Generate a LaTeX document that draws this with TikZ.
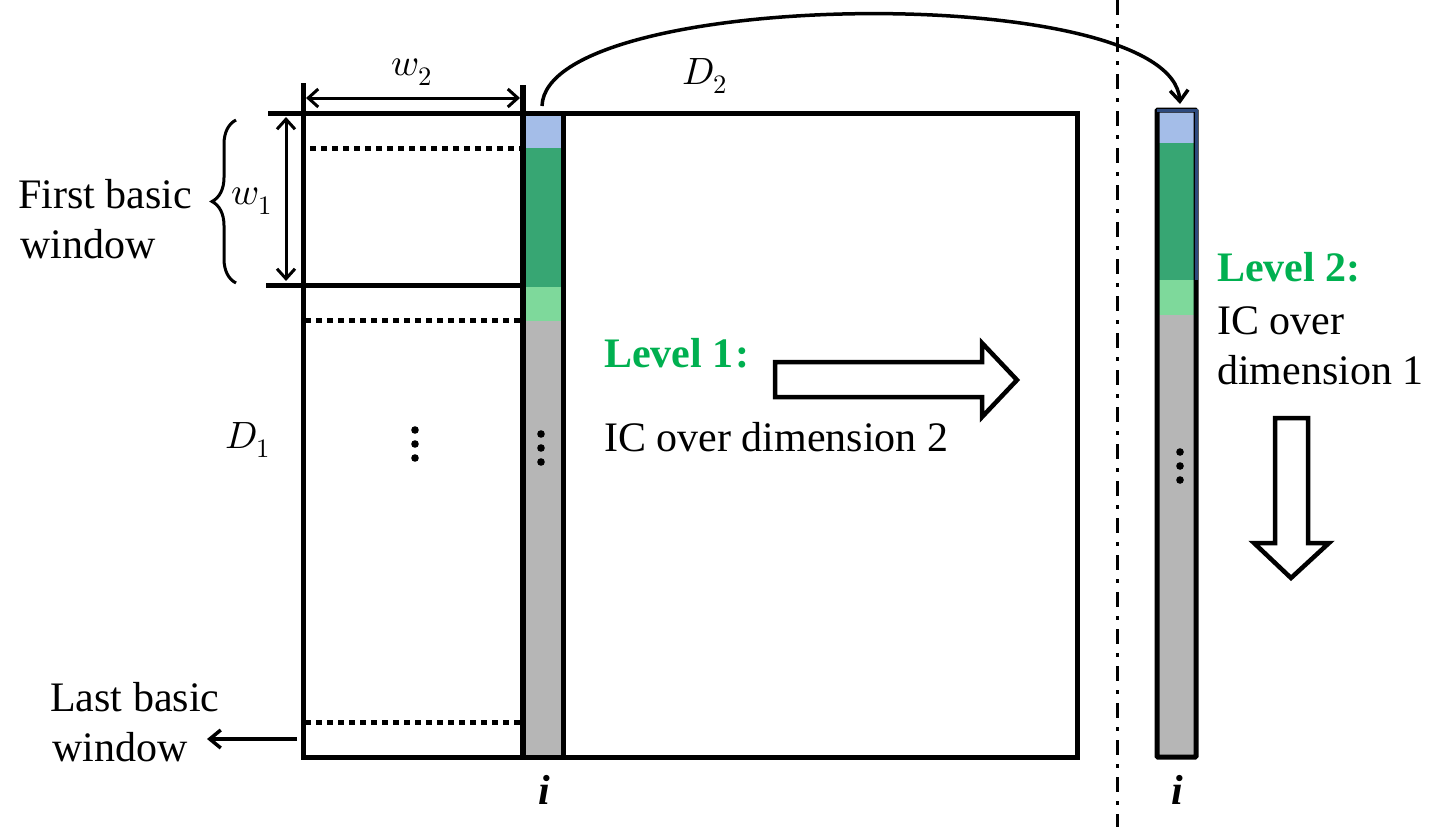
\documentclass[tikz,border=0pt]{standalone}
\usepackage{fontspec}
\usepackage{unicode-math}
\setmainfont{Liberation Serif}
\setmathfont{Latin Modern Math}
\usetikzlibrary{arrows.meta,decorations.pathreplacing,calc}

\definecolor{cellblue}{HTML}{A4BDE8}
\definecolor{celldkgreen}{HTML}{37A673}
\definecolor{celllgreen}{HTML}{7ED99B}
\definecolor{cellgray}{HTML}{B6B6B6}
\definecolor{edgeblue}{HTML}{2E4A7D}
\definecolor{lvlgreen}{HTML}{00B050}

\tikzset{
  txt/.style={inner sep=0pt, font=\fontsize{42}{50}\selectfont},
  mth/.style={inner sep=0pt, font=\fontsize{38}{46}\selectfont},
  lvl/.style={txt, text=lvlgreen, font=\fontsize{42}{50}\selectfont\bfseries},
  thick line/.style={line width=5pt},
  dotline/.style={line width=5pt, dash pattern=on 6pt off 5pt},
  dimarrow/.style={line width=3pt, {Straight Barb[length=10pt,width=18pt]}-{Straight Barb[length=10pt,width=18pt]}},
  onearrow/.style={line width=3.5pt, -{Straight Barb[length=11pt,width=18pt]}},
  blockarrow/.style={line width=4.5pt, fill=white, line join=miter},
  dotdash/.style={line width=3pt, dash pattern=on 15pt off 9pt on 4pt off 9pt},
}

\begin{document}
\begin{tikzpicture}[x=1pt,y=-1pt]
\useasboundingbox (0,0) rectangle (1440,827);

% ---- separator between the two views
\draw[dotdash] (1117,0) -- (1117,827);

% ---- column i inside the matrix
\fill[cellblue]    (524,113) rectangle (563,148);
\fill[celldkgreen] (524,148) rectangle (563,287);
\fill[celllgreen]  (524,287) rectangle (563,321);
\fill[cellgray]    (524,321) rectangle (563,757);

% ---- the D1 x D2 matrix
\draw[thick line] (303,113) rectangle (1077,757);
\draw[thick line] (268,113) -- (303,113);
\draw[line width=6pt] (523,85) -- (523,757);
\draw[thick line] (563,113) -- (563,757);
\draw[thick line] (303,83) -- (303,113);
\draw[thick line] (266,285) -- (523,285);

% basic window boundaries
\draw[dotline] (310,148) -- (520,148);
\draw[dotline] (305,320) -- (520,320);
\draw[dotline] (305,722) -- (520,722);

% vertical dots
\foreach \yy in {430,444,458} \fill (415,\yy) circle (3.8pt);
\foreach \yy in {434,448,462} \fill (541,\yy) circle (3.8pt);

% ---- extracted column (right view)
\fill[cellblue]    (1157,110) rectangle (1196,143);
\fill[celldkgreen] (1157,143) rectangle (1196,280);
\fill[celllgreen]  (1157,280) rectangle (1196,315);
\fill[cellgray]    (1157,315) rectangle (1196,757);
\draw[thick line, rounded corners=1pt] (1157,110) rectangle (1196,757);
\draw[line width=3pt, edgeblue] (1157,110) -- (1196,110) -- (1196,280);
\foreach \yy in {452,466,480} \fill (1180,\yy) circle (3.8pt);

% ---- dimension arrows and brace
\coordinate (w2l) at (306,98);
\coordinate (w2r) at (520,98);
\draw[dimarrow] (w2l) -- (w2r);
\node[mth] (w2) at (412,72) {$w_2$};

\coordinate (w1t) at (286,117);
\coordinate (w1b) at (286,281);
\draw[dimarrow] (w1t) -- (w1b);
\node[mth] (w1) at (252,201) {$w_1$};

\draw[line width=3pt, decorate, decoration={brace, amplitude=24pt}]
  (236,283) -- (236,120);

\node[mth] (D2) at (705,76) {$D_2$};
\node[mth] (D1) at (248,440) {$D_1$};

% ---- labels
\node[txt, anchor=base west] (fbw1) at (18,208) {First basic};
\node[txt, anchor=base west] (fbw2) at (20,258) {window};
\node[txt, anchor=base west] (lbw1) at (50,711) {Last basic};
\node[txt, anchor=base west] (lbw2) at (52,761) {window};

\coordinate (lwin) at (297,739);
\coordinate (lwtip) at (207,739);
\draw[onearrow] (lwin) -- (lwtip);

\node[lvl, anchor=base west] (lv1) at (604,367) {Level 1\kern2pt:};
\node[txt, anchor=base west] (lv1t) at (604,451) {IC over dimension 2};

\node[lvl, anchor=base west] (lv2) at (1217,281) {Level 2:};
\node[txt, anchor=base west] (lv2a) at (1217,334) {IC over};
\node[txt, anchor=base west] (lv2b) at (1217,384) {dimension 1};

\node[txt, font=\fontsize{42}{50}\selectfont\bfseries\itshape] (i1) at (544,790) {i};
\node[txt, font=\fontsize{42}{50}\selectfont\bfseries\itshape] (i2) at (1177,790) {i};

% ---- block arrows
\draw[blockarrow] (775,362) -- (982,362) -- (982,343) -- (1017,380) -- (982,417)
  -- (982,397) -- (775,397) -- cycle;
\draw[blockarrow] (1275,418) -- (1308,418) -- (1308,543) -- (1329,543) -- (1291,578)
  -- (1254,543) -- (1275,543) -- cycle;

% ---- column i carried over to the right view
\coordinate (cstart) at (542,106);
\coordinate (cend) at (1180,104);
\draw[onearrow] (cstart) .. controls (546,-12) and (1172,-20) .. (cend);

\end{tikzpicture}
\end{document}
